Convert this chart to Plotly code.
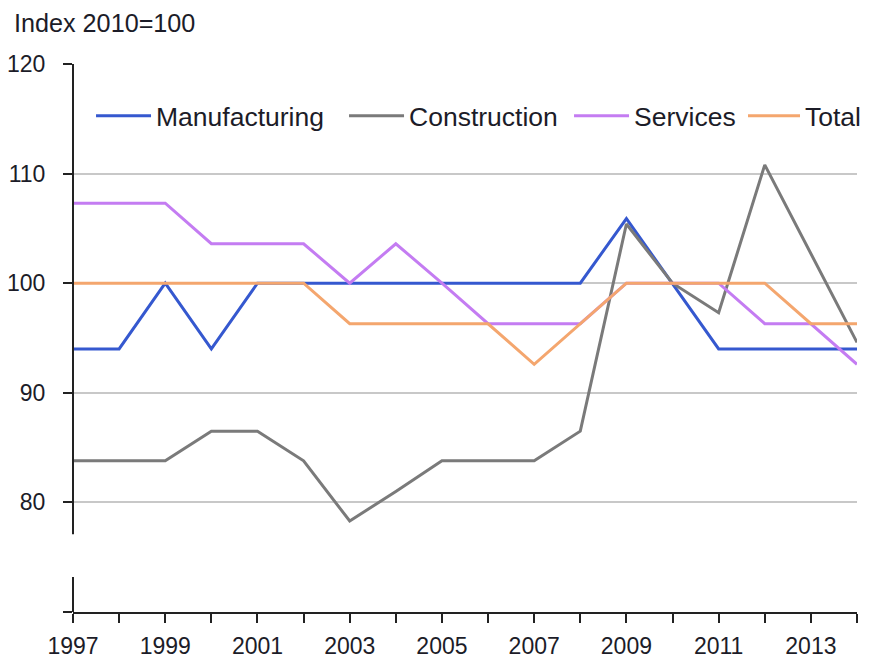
import plotly.graph_objects as go

years = list(range(1997, 2015))
manufacturing = [94.0, 94.0, 100.0, 94.0, 100.0, 100.0, 100.0, 100.0, 100.0, 100.0, 100.0, 100.0, 105.9, 100.0, 94.0, 94.0, 94.0, 94.0]
construction = [83.8, 83.8, 83.8, 86.5, 86.5, 83.8, 78.3, 81.0, 83.8, 83.8, 83.8, 86.5, 105.4, 100.0, 97.3, 110.8, 102.7, 94.6]
services = [107.3, 107.3, 107.3, 103.6, 103.6, 103.6, 100.0, 103.6, 100.0, 96.3, 96.3, 96.3, 100.0, 100.0, 100.0, 96.3, 96.3, 92.6]
total = [100.0, 100.0, 100.0, 100.0, 100.0, 100.0, 96.3, 96.3, 96.3, 96.3, 92.6, 96.3, 100.0, 100.0, 100.0, 100.0, 96.3, 96.3]

series_names = ["Manufacturing", "Construction", "Services", "Total"]
series_values = [manufacturing, construction, services, total]
series_colors = ["#3558CF", "#7A7A7A", "#C47CF2", "#F4A66E"]

y_ticks = [70, 80, 90, 100, 110, 120]
y_labels = ["", "80", "90", "100", "110", "120"]
x_labels = [str(y) if (y - 1997) % 2 == 0 and y < 2014 else "" for y in years]

FONT = "Liberation Sans, Arial, sans-serif"
TXT = "#1c1c28"

# one legend box per entry so the entries sit where the reference puts them
legend_ids = ["legend", "legend2", "legend3", "legend4"]
legend_x = [0.023, 0.3457, 0.6327, 0.8546]
legend_itemwidth = [55, 55, 55, 52]

fig = go.Figure()
for name, vals, col, lid in zip(series_names, series_values, series_colors, legend_ids):
    fig.add_trace(go.Scatter(x=years, y=vals, name=name, mode="lines",
                             line=dict(color=col, width=3), legend=lid))

legend_common = dict(orientation="h", xanchor="left", y=0.905, yanchor="middle",
                     font=dict(size=26.5, family=FONT, color=TXT),
                     bgcolor="rgba(0,0,0,0)", tracegroupgap=0)

fig.update_layout(
    width=871, height=652,
    margin=dict(l=65, r=22, t=56, b=48, autoexpand=False),
    paper_bgcolor="white", plot_bgcolor="white",
    font=dict(family=FONT, color=TXT, size=23),
    showlegend=True,
    xaxis=dict(range=[1997, 2014], tickvals=years, ticktext=x_labels,
               ticks="outside", ticklen=9, tickwidth=2, tickcolor="#222",
               showline=True, linecolor="#222", linewidth=2,
               showgrid=False, zeroline=False, automargin=False,
               ticklabelstandoff=3,
               tickfont=dict(size=23, family=FONT, color=TXT)),
    yaxis=dict(range=[70, 120], tickvals=y_ticks, ticktext=y_labels,
               ticks="outside", ticklen=9, tickwidth=2, tickcolor="#222",
               showline=False, showgrid=True, gridcolor="#C8C8C8", gridwidth=1.5,
               zeroline=False, automargin=False, ticklabelstandoff=13,
               tickfont=dict(size=23, family=FONT, color=TXT)),
)
for lid, lx, iw in zip(legend_ids, legend_x, legend_itemwidth):
    fig.update_layout({lid: dict(x=lx, itemwidth=iw, **legend_common)})

# y axis line with a break
fig.add_shape(type="line", xref="paper", yref="y", x0=0, x1=0, y0=120, y1=77.1,
              line=dict(color="#222", width=2))
fig.add_shape(type="line", xref="paper", yref="y", x0=0, x1=0, y0=73.2, y1=70,
              line=dict(color="#222", width=2))

fig.add_annotation(text="Index 2010=100", xref="paper", yref="paper",
                   x=-0.078, y=1.0748, xanchor="left", yanchor="middle",
                   showarrow=False, font=dict(size=25.2, family=FONT, color=TXT))

fig.write_html("out.html")
